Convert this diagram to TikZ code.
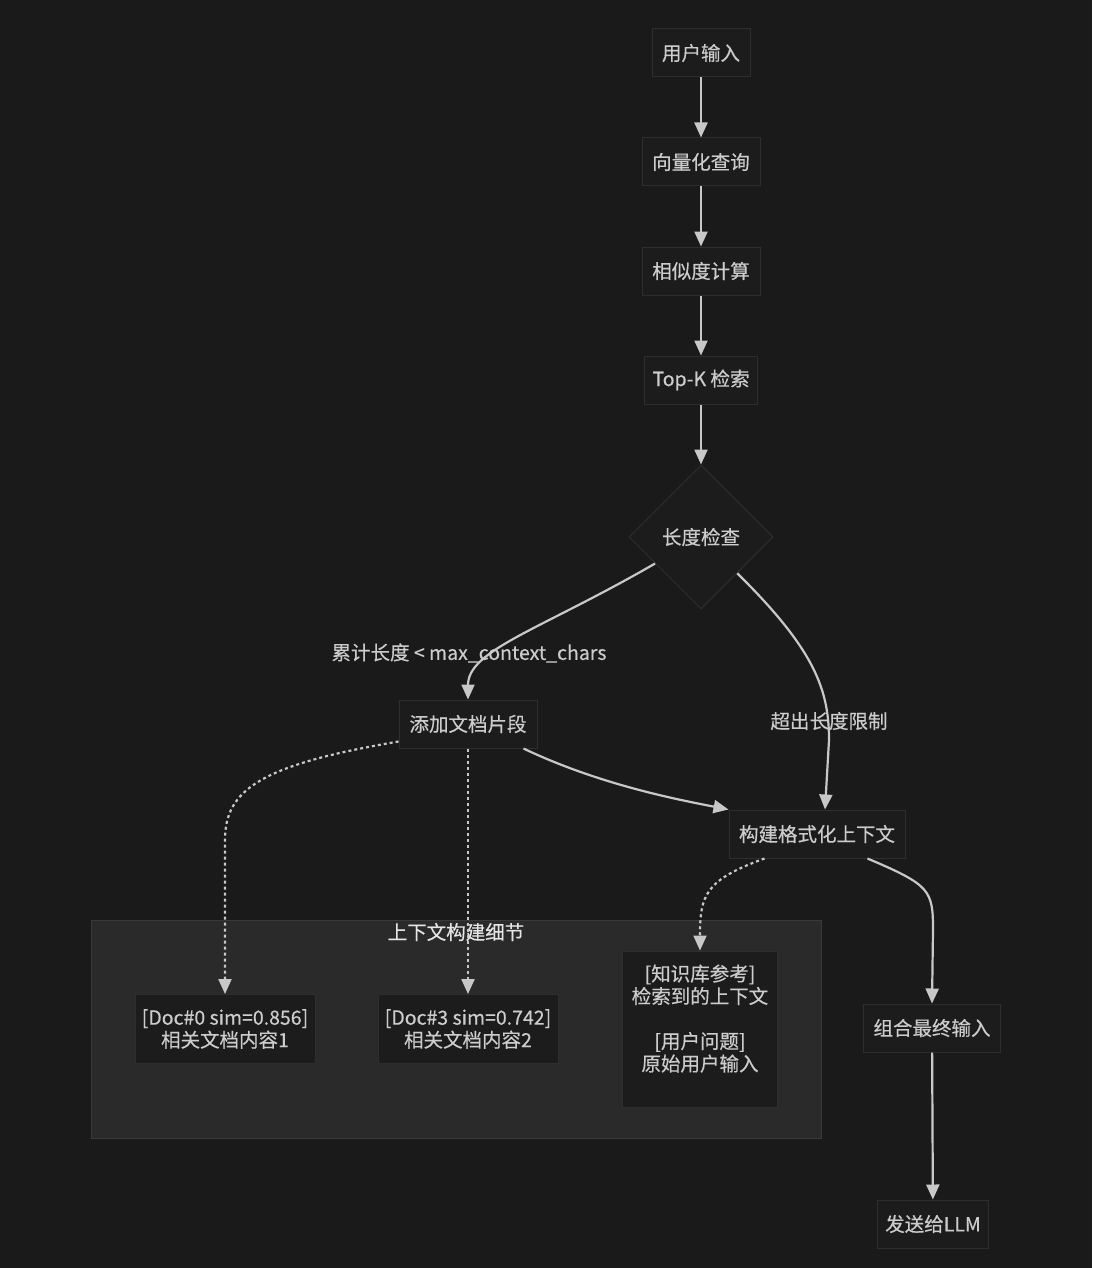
\documentclass[tikz,border=0pt]{standalone}
\usepackage{fontspec}
\setmainfont{Noto Sans CJK SC}[FakeBold=0.4]
\usetikzlibrary{arrows.meta,shapes.geometric,calc}
\definecolor{bg}{HTML}{1A1A1A}
\definecolor{nodefill}{HTML}{1C1C1C}
\definecolor{nodeline}{HTML}{2E2E2E}
\definecolor{clusterfill}{HTML}{2A2A2A}
\definecolor{clusterline}{HTML}{3A3A3A}
\definecolor{txt}{HTML}{CCCCCC}
\definecolor{edge}{HTML}{C8C8C8}
\begin{document}
\begin{tikzpicture}[x=1pt,y=-1pt,
  font=\fontsize{19.5}{22.5}\selectfont,
  box/.style={draw=nodeline,line width=1pt,fill=nodefill,text=txt,inner sep=0pt,align=center},
  decision/.style={diamond,draw=nodeline,line width=1pt,fill=nodefill,text=txt,inner sep=0pt,minimum width=144pt,minimum height=144pt,aspect=1},
  flow/.style={draw=edge,line width=2.2pt,-{Triangle[length=15pt,width=13pt]}},
  dotflow/.style={flow,dash pattern=on 3pt off 3pt},
  elabel/.style={text=txt,inner sep=1pt},
]
\fill[bg] (0,0) rectangle (1092,1268);
\useasboundingbox (0,0) rectangle (1092,1268);

% cluster
\node[draw=clusterline,line width=1pt,fill=clusterfill,minimum width=730pt,minimum height=218pt,inner sep=0pt] (cluster) at (456,1029) {};
\node[text=white!90!black,inner sep=0pt] (ctitle) at (456,932) {上下文构建细节};

% main flow
\node[box,minimum width=98pt,minimum height=48pt] (in) at (701,53) {用户输入};
\node[box,minimum width=118pt,minimum height=48pt] (vec) at (701,162) {向量化查询};
\node[box,minimum width=118pt,minimum height=48pt] (sim) at (701,271) {相似度计算};
\node[box,minimum width=113pt,minimum height=48pt] (topk) at (701,380) {Top-K 检索};
\node[decision] (dia) at (701,537) {长度检查};
\node[box,minimum width=138pt,minimum height=48pt] (add) at (468,724) {添加文档片段};
\node[box,minimum width=176pt,minimum height=48pt] (build) at (817,834) {构建格式化上下文};
\node[box,minimum width=137pt,minimum height=48pt] (comb) at (932,1028) {组合最终输入};
\node[box,minimum width=111pt,minimum height=48pt] (send) at (933,1224) {发送给LLM};

% cluster nodes
\node[box,minimum width=180pt,minimum height=69pt] (doc0) at (225,1029) {[Doc\#0 sim=0.856]\\相关文档内容1};
\node[box,minimum width=180pt,minimum height=69pt] (doc3) at (468,1029) {[Doc\#3 sim=0.742]\\相关文档内容2};
\node[box,minimum width=155pt,minimum height=156pt] (kb) at (700,1029) {[知识库参考]\\检索到的上下文\\\mbox{}\\{[}用户问题{]}\\原始用户输入\\\mbox{}};

% edges
\draw[flow] (in) -- (vec);
\draw[flow] (vec) -- (sim);
\draw[flow] (sim) -- (topk);
\draw[flow] (topk) -- (dia);
\draw[flow] (dia.-150) .. controls (540,630) and (468,650) .. (add.north);
\node[elabel] (l1) at (469,653) {累计长度 < max\_context\_chars};
\draw[flow] (dia.-45) .. controls (815,650) and (829,690) .. (829,740) -- ($(build.north)+(8,0)$);
\node[elabel] (l2) at (829,721) {超出长度限制};
\draw[flow] ($(add.south east)+(-14,0)$) .. controls (600,785) and (680,800) .. (build.north west);
\draw[dotflow] ($(add.south west)+(0,-7)$) .. controls (260,765) and (225,790) .. (225,840) -- (doc0.north);
\draw[dotflow] (add.south) -- (doc3.north);
\draw[dotflow] ($(build.south west)+(36,0)$) .. controls (705,880) and (700,895) .. (kb.north);
\draw[flow] ($(build.south east)+(-38,0)$) .. controls (930,885) and (933,890) .. (933,930) -- (comb.north);
\draw[flow] (comb) -- (send);
\end{tikzpicture}
\end{document}
